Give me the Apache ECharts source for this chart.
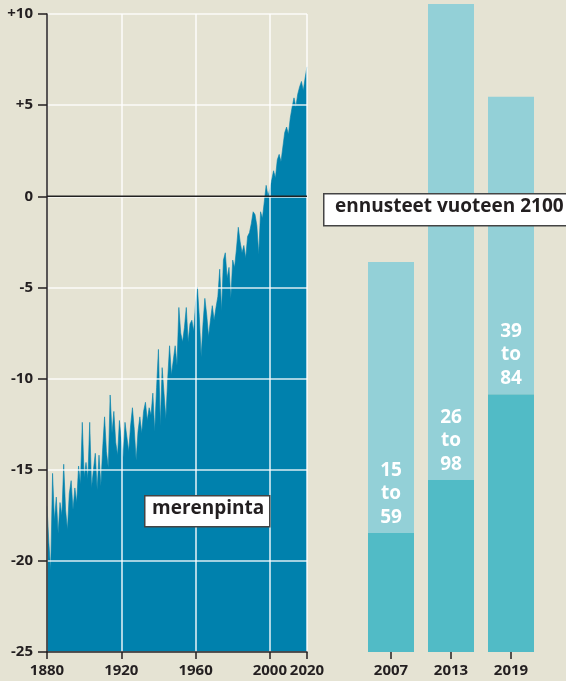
<!DOCTYPE html>
<html>
<head>
<meta charset="utf-8">
<script src="https://cdn.jsdelivr.net/npm/echarts@6/dist/echarts.min.js"></script>
<style>
  html, body { margin: 0; padding: 0; background: #e5e3d3; }
  #chart { width: 566px; height: 681px; }
</style>
</head>
<body>
<div id="chart"></div>
<script>
// merenpinnan muutos vuosittain 1880-2020 (luettu kuvasta)
const firstYear = 1880;
const seaLevel = [
  -17.0, -19.0, -20.5, -15.2, -17.8, -16.5, -18.5, -16.8, -17.5, -14.7,
  -17.2, -18.3, -16.3, -15.6, -17.2, -16.0, -16.8, -14.8, -15.8, -12.4,
  -15.4, -14.6, -15.5, -12.4, -16.0, -15.0, -14.1, -16.1, -14.2, -15.9,
  -13.8, -12.1, -14.0, -14.9, -10.9, -13.0, -11.8, -13.5, -14.2, -12.3,
  -13.4, -14.3, -12.4, -13.2, -14.0, -12.6, -11.6, -12.8, -14.5, -12.9,
  -12.1, -13.0, -11.8, -11.3, -12.3, -11.6, -12.0, -10.8, -12.9, -10.5,
  -8.4, -12.6, -9.4, -10.8, -12.2, -10.0, -8.2, -9.8, -9.0, -8.2,
  -9.3, -6.1, -7.5, -8.0, -7.2, -6.1, -8.0, -7.0, -6.8, -7.4,
  -5.9, -5.0, -6.6, -8.8, -7.0, -5.6, -6.5, -7.7, -6.8, -6.0,
  -6.8, -6.1, -5.5, -4.0, -6.3, -3.5, -3.1, -4.5, -3.9, -5.6,
  -3.5, -3.9, -2.9, -1.7, -2.5, -3.1, -2.7, -3.4, -2.2, -2.0,
  -1.5, -0.85, -1.0, -1.6, -3.2, -0.85, -1.2, -0.3, 0.6, 0.0,
  0.4, 0.9, 1.4, 1.0, 2.0, 2.3, 1.9, 2.7, 3.5, 3.8,
  3.4, 4.3, 4.9, 5.4, 4.9, 5.6, 6.0, 6.3, 5.8, 6.5,
  7.1
];

// ennusteet vuoteen 2100
const reportYears = ['2007', '2013', '2019'];
const lowEnd = [15, 26, 39];
const highEnd = [59, 98, 84];
const darkHeights = [18, 26, 39]; // tummemman osan korkeus kuvassa

const seaData = seaLevel.map((v, i) => [firstYear + i, v]);
const lightPart = highEnd.map((h, i) => h - darkHeights[i]);

const txt = '#231f20';
const fontFam = '"Open Sans", sans-serif';

const chart = echarts.init(document.getElementById('chart'));

chart.setOption({
  backgroundColor: '#e5e3d3',
  animation: false,
  grid: [
    { left: 47, top: 14, width: 260, height: 638 },
    { left: 361, top: 14, width: 180, height: 638 }
  ],
  xAxis: [
    {
      type: 'value', gridIndex: 0, min: 1880, max: 2020, interval: 40, z: 3,
      axisLine: { onZero: false, lineStyle: { color: txt, width: 1.5 } },
      axisTick: { length: 7, lineStyle: { color: txt, width: 1.5 } },
      axisLabel: { color: txt, fontFamily: fontFam, fontWeight: 700, fontSize: 15, margin: 11,
        formatter: v => String(v) },
      splitLine: { lineStyle: { color: 'rgba(255,255,255,0.85)', width: 1.6 } }
    },
    {
      type: 'category', gridIndex: 1, data: reportYears,
      axisLine: { show: false, onZero: false },
      axisTick: { show: true, alignWithLabel: true, length: 7, lineStyle: { color: txt, width: 1.5 } },
      axisLabel: { color: txt, fontFamily: fontFam, fontWeight: 700, fontSize: 15, margin: 11 }
    }
  ],
  yAxis: [
    {
      type: 'value', gridIndex: 0, min: -25, max: 10, interval: 5, z: 3,
      axisLine: { show: true, lineStyle: { color: txt, width: 1.5 } },
      axisTick: { show: true, length: 9, lineStyle: { color: txt, width: 1.5 } },
      axisLabel: {
        color: txt, fontFamily: fontFam, fontWeight: 700, fontSize: 15, margin: 14,
        formatter: v => (v > 0 ? '+' + v : String(v))
      },
      splitLine: { lineStyle: { color: 'rgba(255,255,255,0.85)', width: 1.6 } }
    },
    { type: 'value', gridIndex: 1, min: 0, max: 96.5, show: false }
  ],
  series: [
    {
      name: 'merenpinta', type: 'line', xAxisIndex: 0, yAxisIndex: 0,
      data: seaData, symbol: 'none', z: 2,
      lineStyle: { color: '#0081ad', width: 0.6 },
      areaStyle: { color: '#0081ad', opacity: 1, origin: 'start' }
    },
    {
      name: 'nolla', type: 'line', xAxisIndex: 0, yAxisIndex: 0,
      data: [[1880, 0], [2020, 0]], symbol: 'none', z: 4, silent: true,
      lineStyle: { color: '#222', width: 1.5 }
    },
    {
      name: 'alaraja', type: 'bar', xAxisIndex: 1, yAxisIndex: 1, stack: 'ennuste',
      data: darkHeights, barWidth: 46, clip: false,
      itemStyle: { color: '#51bbc6' }
    },
    {
      name: 'yläraja', type: 'bar', xAxisIndex: 1, yAxisIndex: 1, stack: 'ennuste',
      data: lightPart, barWidth: 46, clip: false,
      itemStyle: { color: '#93d0d7' },
      label: {
        show: true, position: 'insideBottom', distance: 4,
        color: '#fff', fontFamily: fontFam, fontWeight: 700, fontSize: 19, lineHeight: 23.5,
        formatter: p => lowEnd[p.dataIndex] + '\nto\n' + highEnd[p.dataIndex]
      }
    }
  ],
  graphic: [
    { type: 'rect', left: 144, top: 495, z: 100,
      shape: { width: 125, height: 31 },
      style: { fill: '#fff', stroke: '#444', lineWidth: 1.5 } },
    { type: 'text', left: 152, top: 499, z: 101,
      style: { text: 'merenpinta', fill: txt, font: 'bold 19px ' + fontFam } },
    { type: 'rect', left: 323, top: 193, z: 100,
      shape: { width: 245, height: 32 },
      style: { fill: '#fff', stroke: '#444', lineWidth: 1.5 } },
    { type: 'text', left: 335, top: 197, z: 101,
      style: { text: 'ennusteet vuoteen 2100', fill: txt, font: 'bold 19px ' + fontFam } }
  ]
});
</script>
</body>
</html>
